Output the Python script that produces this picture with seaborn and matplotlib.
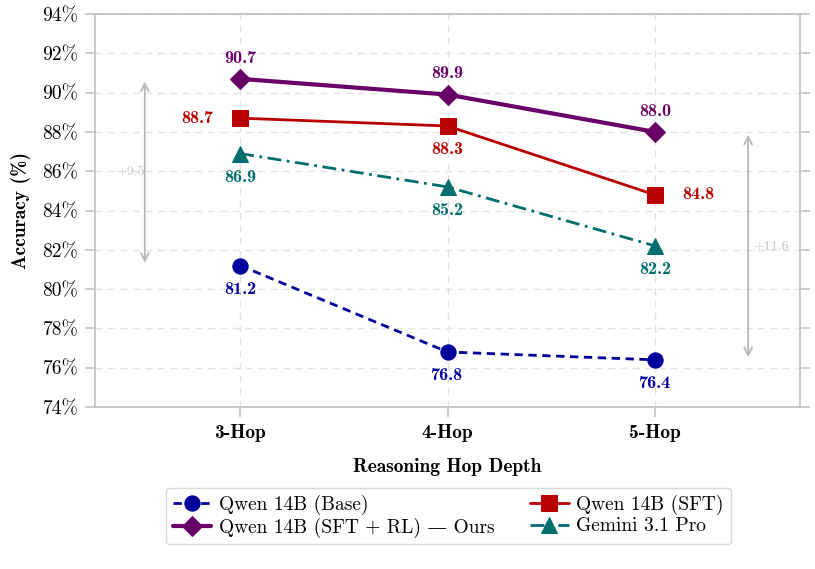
import numpy as np
import pandas as pd
import matplotlib
matplotlib.use('Agg')
import matplotlib.pyplot as plt
import seaborn as sns

# data
hops = ["3-Hop", "4-Hop", "5-Hop"]
base = [81.2, 76.8, 76.4]
sft = [88.7, 88.3, 84.8]
sft_rl = [90.7, 89.9, 88.0]
gemini = [86.9, 85.2, 82.2]

series = [
    ("Qwen 14B (Base)", base, "#00009c", (0, (3, 2)), "o", 11, 2.0),
    ("Qwen 14B (SFT)", sft, "#b80000", "-", "s", 11, 2.0),
    ("Qwen 14B (SFT + RL) — Ours", sft_rl, "#680068", "-", "D", 10, 3.0),
    ("Gemini 3.1 Pro", gemini, "#006e6e", (0, (5, 2, 1, 2)), "^", 11, 2.0),
]
# label placement per point: (dx pts, dy pts)
offsets = {
    "Qwen 14B (Base)": [(0, -17), (0, -17), (0, -17)],
    "Qwen 14B (SFT)": [(-31, 0), (0, -17), (31, 0)],
    "Qwen 14B (SFT + RL) — Ours": [(0, 15), (0, 15), (0, 15)],
    "Gemini 3.1 Pro": [(0, -17), (0, -17), (0, -17)],
}

sns.set_theme(style="white")
plt.rcParams['font.family'] = ['cmr10', 'DejaVu Serif']
plt.rcParams['mathtext.fontset'] = 'cm'
plt.rcParams['axes.formatter.use_mathtext'] = True
plt.rcParams['text.color'] = 'black'
plt.rcParams['axes.labelcolor'] = 'black'
plt.rcParams['xtick.labelcolor'] = 'black'
plt.rcParams['ytick.labelcolor'] = 'black'
bold = ['cmb10', 'DejaVu Serif']

fig = plt.figure(figsize=(8.15, 5.69), dpi=100)
ax = fig.add_axes([0.1166, 0.2847, 0.865, 0.6907])

x = np.arange(len(hops))
for name, vals, color, ls, marker, ms, lw in series:
    df = pd.DataFrame({"x": x, "y": vals})
    sns.lineplot(data=df, x="x", y="y", ax=ax, color=color, linestyle=ls,
                 marker=marker, markersize=ms, linewidth=lw,
                 markeredgecolor=color, label=name)
    for i, v in enumerate(vals):
        dx, dy = offsets[name][i]
        ax.annotate(f"{v:.1f}", (x[i], v), xytext=(dx, dy), textcoords="offset points",
                    ha="center", va="center", color=color, fontsize=13,
                    family=bold)

# gap arrows
arrow_kw = dict(arrowstyle="<->", color="#b8b8b8", lw=1.3, mutation_scale=14)
ax.annotate("", xy=(-0.46, sft_rl[0]), xytext=(-0.46, base[0]), arrowprops=arrow_kw)
ax.text(-0.53, (sft_rl[0] + base[0]) / 2, f"+{sft_rl[0] - base[0]:.1f}",
        ha="center", va="center", color="#c8c8c8", fontsize=10)
ax.annotate("", xy=(2.45, sft_rl[2]), xytext=(2.45, base[2]), arrowprops=arrow_kw)
ax.text(2.56, (sft_rl[2] + base[2]) / 2, f"+{sft_rl[2] - base[2]:.1f}",
        ha="center", va="center", color="#c8c8c8", fontsize=10)

ax.set_xlim(-0.7, 2.7)
ax.set_ylim(74, 94)
ax.set_xticks(x)
ax.set_xticklabels(hops, fontsize=14, family=bold)
yt = np.arange(74, 95, 2)
ax.set_yticks(yt)
ax.set_yticklabels([f"{t}%" for t in yt], fontsize=14)
ax.set_xlabel("Reasoning Hop Depth", fontsize=14, family=bold, labelpad=12)
ax.set_ylabel("Accuracy (%)", fontsize=14, family=bold, labelpad=8)

ax.grid(True, color="#e2e2e2", linestyle=(0, (5, 4)), linewidth=1)
for s in ax.spines.values():
    s.set_color("#c4c4c4")
    s.set_linewidth(1.3)
ax.tick_params(axis="both", which="both", direction="out", length=7,
               color="#c4c4c4", width=1.2, left=True, right=True, bottom=True,
               pad=5)

handles, labels = ax.get_legend_handles_labels()
ax.legend_.remove()
order = [0, 2, 1, 3]
fig.legend([handles[i] for i in order], [labels[i] for i in order],
           loc="center", bbox_to_anchor=(0.55, 0.093), ncol=2,
           fontsize=14, frameon=True, edgecolor="#d0d0d0", fancybox=True,
           handlelength=2.0, handletextpad=0.4, columnspacing=1.8,
           borderpad=0.35, labelspacing=0.15)

fig.savefig("out.png", dpi=100)
